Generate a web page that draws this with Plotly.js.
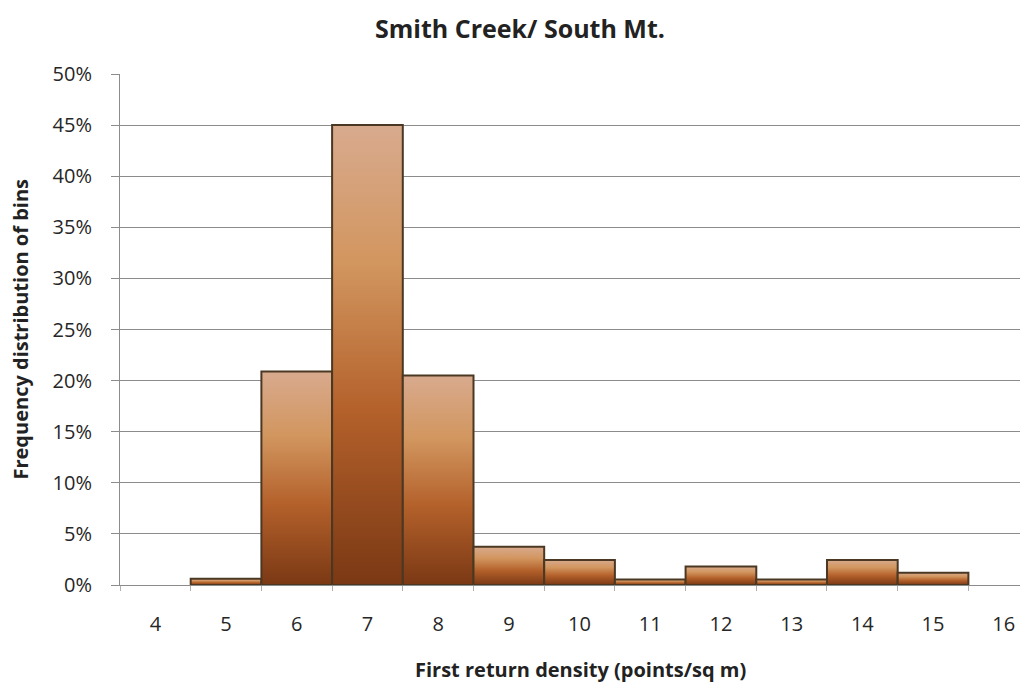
<!DOCTYPE html>
<html>
<head>
<meta charset="utf-8">
<script src="https://cdn.plot.ly/plotly-3.0.1.min.js"></script>
<style>html,body{margin:0;padding:0;background:#fff;}#chart{width:1020px;height:685px;}</style>
</head>
<body>
<div id="chart"></div>
<script>
const categories = ['4','5','6','7','8','9','10','11','12','13','14','15','16'];
const frequency = [0, 0.006, 0.209, 0.45, 0.205, 0.0375, 0.0245, 0.0055, 0.018, 0.0055, 0.0245, 0.012, 0];
const yTickValues = [0, 0.05, 0.10, 0.15, 0.20, 0.25, 0.30, 0.35, 0.40, 0.45, 0.50];
const yTickLabels = ['0%','5%','10%','15%','20%','25%','30%','35%','40%','45%','50%'];

const FONT = '"Open Sans", Lato, "DejaVu Sans", sans-serif';

const trace = {
  type: 'bar',
  x: categories,
  y: frequency,
  marker: {
    color: '#c27a45',
    line: { color: '#4b3823', width: frequency.map(function (v) { return v > 0 ? 2 : 0; }) }
  },
  hoverinfo: 'x+y'
};

const layout = {
  width: 1020, height: 685,
  margin: { l: 120, r: 0, t: 74, b: 100 },
  paper_bgcolor: '#ffffff', plot_bgcolor: '#ffffff',
  bargap: 0,
  showlegend: false,
  font: { family: FONT, color: '#262626', size: 20 },
  title: {
    text: '<b>Smith Creek/ South Mt.</b>',
    font: { family: FONT, size: 25, color: '#222222' },
    x: 520/1020, xanchor: 'center', y: 1 - 29/685, yanchor: 'middle'
  },
  xaxis: {
    type: 'category',
    range: [-0.5, 12.23],
    tickson: 'boundaries',
    ticks: 'outside', ticklen: 5, tickcolor: '#b0b0b0', tickwidth: 1,
    showgrid: false,
    showline: true, linecolor: '#8c8c8c', linewidth: 1,
    zeroline: false,
    ticklabelstandoff: 21,
    tickfont: { family: FONT, size: 20, color: '#262626' }
  },
  yaxis: {
    range: [0, 0.5],
    tickvals: yTickValues, ticktext: yTickLabels,
    ticks: 'outside', ticklen: 8, tickcolor: '#8c8c8c',
    showgrid: true, gridcolor: '#8c8c8c', gridwidth: 1,
    showline: true, linecolor: '#8c8c8c', linewidth: 1,
    zeroline: false,
    ticklabelstandoff: 15,
    tickfont: { family: FONT, size: 20, color: '#262626' }
  },
  annotations: [
    {
      text: '<b>First return density (points/sq m)</b>',
      xref: 'paper', yref: 'paper',
      x: (580 - 120) / 900, y: -(669 - 585) / 511,
      xanchor: 'center', yanchor: 'middle', showarrow: false,
      font: { family: FONT, size: 20, color: '#222222' }
    },
    {
      text: '<b>Frequency distribution of bins</b>',
      xref: 'paper', yref: 'paper',
      x: -(120 - 20) / 900, y: 0.5,
      xanchor: 'center', yanchor: 'middle', showarrow: false, textangle: -90,
      font: { family: FONT, size: 20, color: '#222222' }
    }
  ]
};

Plotly.newPlot('chart', [trace], layout, { displayModeBar: false, staticPlot: true }).then(function (gd) {
  const svg = gd.querySelector('svg.main-svg');
  const ns = 'http://www.w3.org/2000/svg';
  let defs = svg.querySelector('defs');
  if (!defs) { defs = document.createElementNS(ns, 'defs'); svg.insertBefore(defs, svg.firstChild); }
  const grad = document.createElementNS(ns, 'linearGradient');
  grad.setAttribute('id', 'barGrad');
  grad.setAttribute('x1', '0'); grad.setAttribute('y1', '0');
  grad.setAttribute('x2', '0'); grad.setAttribute('y2', '1');
  [[0, '#d8aa8e'], [0.3, '#d2965f'], [0.62, '#b4612b'], [1, '#7a3814']].forEach(function (s) {
    const st = document.createElementNS(ns, 'stop');
    st.setAttribute('offset', s[0]);
    st.setAttribute('stop-color', s[1]);
    grad.appendChild(st);
  });
  defs.appendChild(grad);
  gd.querySelectorAll('.trace.bars .point path').forEach(function (p) {
    p.style.fill = 'url(#barGrad)';
  });
});
</script>
</body>
</html>
